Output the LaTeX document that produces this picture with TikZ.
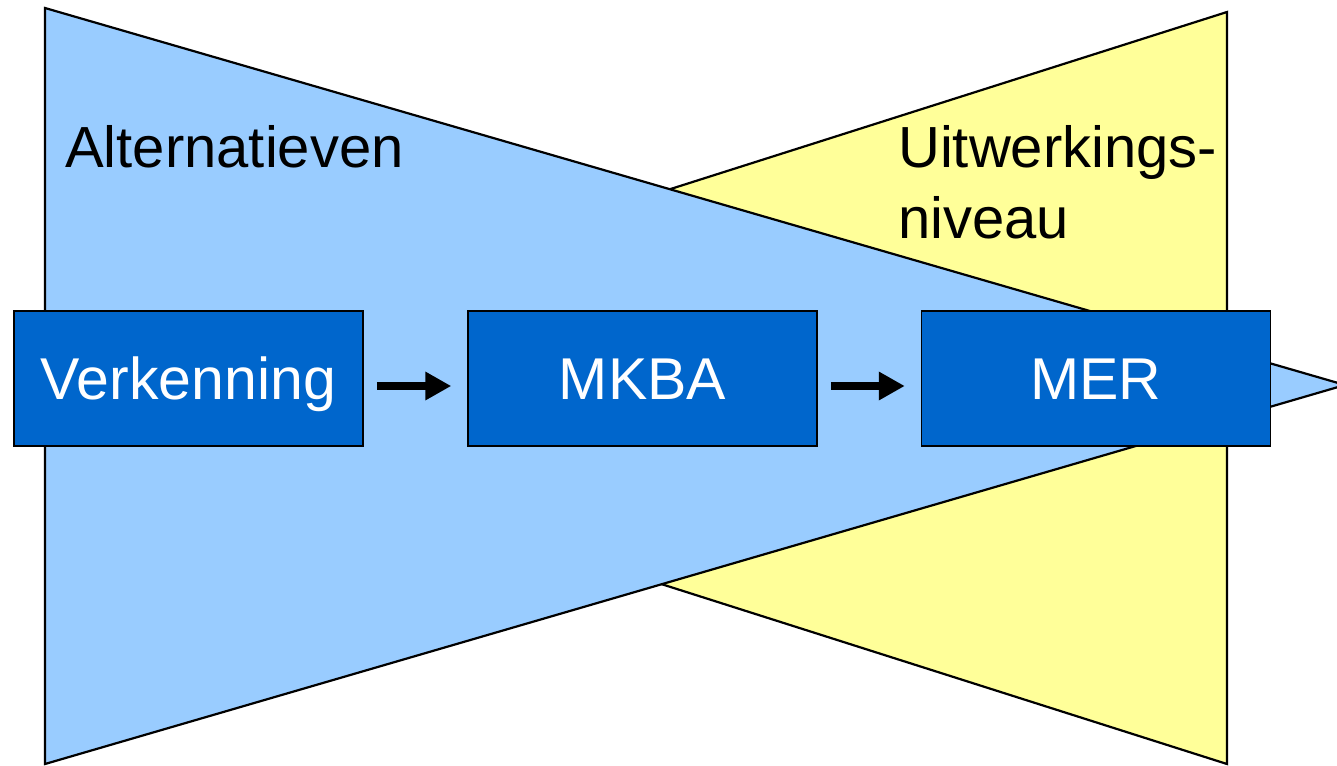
\documentclass[tikz,border=0pt]{standalone}
\usepackage{fontspec}
\setmainfont{Liberation Sans}
\usepackage{xcolor}
\usetikzlibrary{positioning,arrows.meta}
\definecolor{funnelblue}{HTML}{99CCFF}
\definecolor{funnelyellow}{HTML}{FFFF99}
\definecolor{phaseblue}{HTML}{0066CC}

\begin{document}
\begin{tikzpicture}[
  x=1pt, y=-1pt,
  funnel/.style={draw=black, line width=2.2pt, line join=miter},
  phase/.style={rectangle, draw=black, line width=1.5pt, fill=phaseblue, text=white,
    minimum width=349pt, minimum height=135pt, font=\fontsize{59}{60}\selectfont,
    text height=42pt, text depth=0pt, inner sep=0pt},
  lbl/.style={anchor=base west, inner sep=0pt, font=\fontsize{58}{71}\selectfont, align=left},
  arr/.style={-{Triangle[length=26pt,width=27pt]}, line width=8pt, black,
    shorten <=13pt, shorten >=16pt}
]
\useasboundingbox (0,0) rectangle (1337,765);
% funnels
\fill[white] (0,0) rectangle (1337,765);
\draw[funnel, fill=funnelyellow] (1227,12) -- (1227,764) -- (45,388) -- cycle;
\draw[funnel, fill=funnelblue] (45,8) -- (45,764) -- (1345,385) -- cycle;
% labels
\node[lbl] (alt) at (65,167) {Alternatieven};
\node[lbl, anchor=north west] (uit) at (898,125) {Uitwerkings-\\niveau};
% phases
\node[phase] (verk) at (188.5,378.5) {Verkenning};
\node[phase] (mkba) at (642.5,378.5) {MKBA};
\node[phase] (mer) at (1096,378.5) {MER};
% arrows
\draw[arr] (verk.east |- 0,386) -- (mkba.west |- 0,386);
\draw[arr] (mkba.east |- 0,386) -- (mer.west |- 0,386);
\end{tikzpicture}
\end{document}
